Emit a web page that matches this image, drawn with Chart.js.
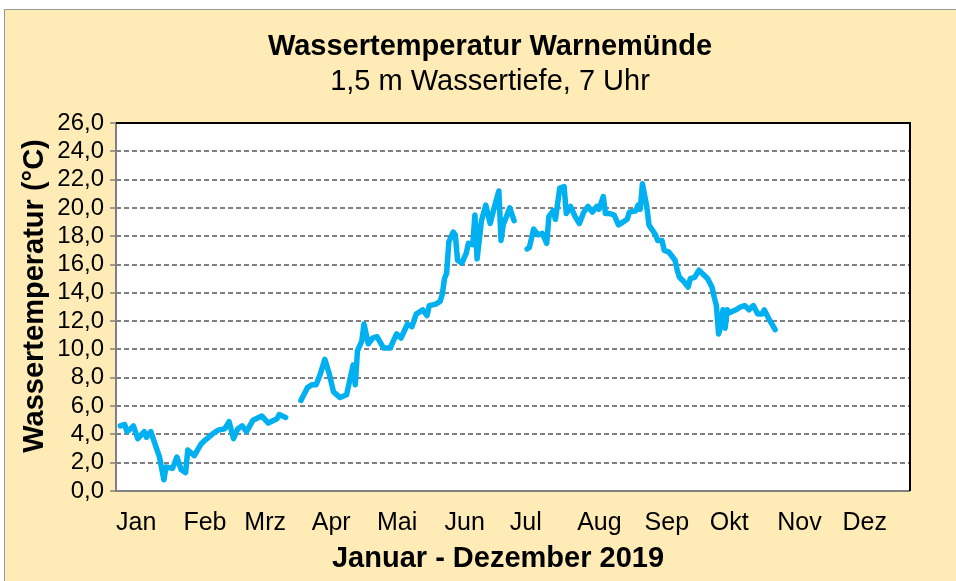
<!DOCTYPE html>
<html><head><meta charset="utf-8">
<script src="https://cdn.jsdelivr.net/npm/chart.js@4.4.0/dist/chart.umd.min.js"></script>
<style>
html,body{margin:0;padding:0;background:#fff;overflow:hidden;width:956px;height:581px;}
#frame{position:absolute;left:4px;top:9px;border-top:1px solid #9a9a9a;border-left:1px solid #9a9a9a;}
canvas{display:block;}
</style></head><body>
<div id="frame"><canvas id="c" width="970" height="571"></canvas></div>
<script>
const monthLabels = ['Jan','Feb','Mrz','Apr','Mai','Jun','Jul','Aug','Sep','Okt','Nov','Dez'];
const monthStartDays = [0,31,59,90,120,151,181,212,243,273,304,334];
const yTickValues = [0,2,4,6,8,10,12,14,16,18,20,22,24,26];

// day of year (0 = 1. Januar); null temperature = gap in the series
const dayOfYear = [
  2,4,5,6,8,10,13,14,16,18,20,22,23,26,28,30,32,33,36,39,41,45,47,50,52,54,56,58,60,63,67,70,74,75,78,
  81,
  85,88,90,92,94,96,98,100,103,106,108,109,110,111,113,114,116,118,120,123,126,129,131,134,136,138,141,143,144,147,149,150,151,152,153,155,156,157,159,161,162,164,165,166,168,170,172,174,176,177,178,181,183,
  186,
  189,190,192,194,196,198,199,201,202,204,206,207,209,211,213,215,217,219,221,222,224,225,227,229,231,233,235,236,239,240,241,242,244,245,248,249,251,252,254,257,258,259,261,262,263,264,266,268,270,272,274,275,276,277,278,279,280,281,282,285,287,289,291,293,295,297,298,300,303
];
const waterTemp = [
  4.6,4.7,4.2,4.3,4.6,3.7,4.2,3.8,4.2,3.3,2.4,0.8,1.7,1.6,2.4,1.5,1.3,2.9,2.5,3.3,3.6,4.1,4.3,4.4,4.9,3.7,4.4,4.6,4.2,5.0,5.3,4.8,5.1,5.4,5.2,
  null,
  6.4,7.3,7.5,7.5,8.3,9.3,8.3,7.0,6.6,6.8,8.2,8.9,7.5,9.9,10.6,11.8,10.4,10.8,10.9,10.1,10.1,11.1,10.8,11.8,11.6,12.5,12.8,12.4,13.1,13.2,13.4,13.9,15.0,15.4,17.6,18.3,18.1,16.3,16.1,16.8,17.5,17.4,19.5,16.4,19.1,20.2,18.9,20.1,21.2,17.7,18.8,20.0,19.1,
  null,
  17.1,17.2,18.5,18.1,18.2,17.5,19.4,19.8,19.2,21.4,21.5,19.6,20.1,19.4,18.9,19.7,20.1,19.7,20.1,19.9,20.8,19.6,19.6,19.5,18.8,19.0,19.2,19.7,19.8,20.2,19.9,21.7,20.1,18.8,18.1,17.7,17.7,17.0,16.9,16.3,15.6,15.1,14.8,14.6,14.4,15.0,15.1,15.6,15.3,15.0,14.4,13.7,13.1,11.1,11.6,12.8,11.5,12.8,12.6,12.8,13.0,13.1,12.8,13.1,12.5,12.5,12.8,12.2,11.4
];

const FONT = "'Liberation Sans', Arial, sans-serif";
const BG = '#FFEBB5';

const bgPlugin = {
  id: 'bg',
  beforeDraw(chart) {
    const {ctx, chartArea: a} = chart;
    ctx.save();
    ctx.fillStyle = BG;
    ctx.fillRect(0, 0, chart.width, chart.height);
    ctx.fillStyle = '#ffffff';
    ctx.fillRect(a.left, a.top, a.right - a.left, a.bottom - a.top);
    ctx.restore();
  },
  beforeDatasetsDraw(chart) {
    const {ctx, chartArea: a} = chart;
    ctx.save();
    ctx.lineWidth = 2;
    ctx.strokeStyle = '#808080';
    ctx.beginPath();
    ctx.moveTo(a.left, a.top); ctx.lineTo(a.left, a.bottom); ctx.lineTo(a.right, a.bottom);
    ctx.stroke();
    ctx.strokeStyle = '#000000';
    ctx.beginPath();
    ctx.moveTo(a.left, a.top); ctx.lineTo(a.right, a.top); ctx.lineTo(a.right, a.bottom);
    ctx.stroke();
    ctx.restore();
  },
  afterDraw(chart) {
    const {ctx} = chart;
    ctx.save();
    ctx.fillStyle = '#000';
    ctx.font = 'bold 29px ' + FONT;
    ctx.textAlign = 'center';
    ctx.textBaseline = 'middle';
    ctx.fillText('Januar - Dezember 2019', 493, 549);
    ctx.translate(30, 286);
    ctx.rotate(-Math.PI / 2);
    ctx.fillText('Wassertemperatur (°C)', 0, 0);
    ctx.restore();
  }
};

new Chart(document.getElementById('c'), {
  type: 'line',
  data: {
    datasets: [{
      data: dayOfYear.map((d, i) => ({x: d, y: waterTemp[i]})),
      borderColor: '#00B0F0',
      borderWidth: 5.5,
      pointRadius: 0,
      tension: 0,
      spanGaps: false,
      borderJoinStyle: 'round',
      borderCapStyle: 'round'
    }]
  },
  options: {
    responsive: false,
    animation: false,
    layout: {padding: 0},
    plugins: {
      legend: {display: false},
      tooltip: {enabled: false},
      title: {
        display: true, text: 'Wassertemperatur Warnemünde', color: '#000',
        font: {family: FONT, size: 29, weight: 'bold'},
        padding: {top: 20, bottom: 0}
      },
      subtitle: {
        display: true, text: '1,5 m Wassertiefe, 7 Uhr', color: '#000',
        font: {family: FONT, size: 29, weight: 'normal'},
        padding: {top: 0, bottom: 23.4}
      }
    },
    scales: {
      x: {
        type: 'linear', min: 0, max: 365,
        grid: {display: false, drawTicks: false},
        border: {display: false},
        afterBuildTicks(scale) { scale.ticks = monthStartDays.map(v => ({value: v})); },
        afterFit(scale) { scale.height = 90; },
        ticks: {
          align: 'start', padding: 17, color: '#000', maxRotation: 0, autoSkip: false,
          font: {family: FONT, size: 25},
          callback: (v) => monthLabels[monthStartDays.indexOf(v)]
        }
      },
      y: {
        min: 0, max: 26,
        afterBuildTicks(scale) { scale.ticks = yTickValues.map(v => ({value: v})); },
        afterFit(scale) { scale.width = 111; },
        grid: {
          color: (c) => (c.tick && (c.tick.value === 0 || c.tick.value === 26)) ? 'rgba(0,0,0,0)' : '#808080',
          lineWidth: 2,
          tickLength: 6,
          tickColor: '#808080',
          tickWidth: 1.5
        },
        border: {display: false, dash: [5, 3]},
        ticks: {
          padding: 6, color: '#000', autoSkip: false,
          font: {family: FONT, size: 24},
          callback: (v) => v.toFixed(1).replace('.', ',')
        }
      },
      yRight: {
        position: 'right', display: true,
        grid: {display: false, drawTicks: false},
        border: {display: false},
        ticks: {display: false},
        afterFit(scale) { scale.width = 65; }
      }
    }
  },
  plugins: [bgPlugin]
});
</script>
</body></html>
